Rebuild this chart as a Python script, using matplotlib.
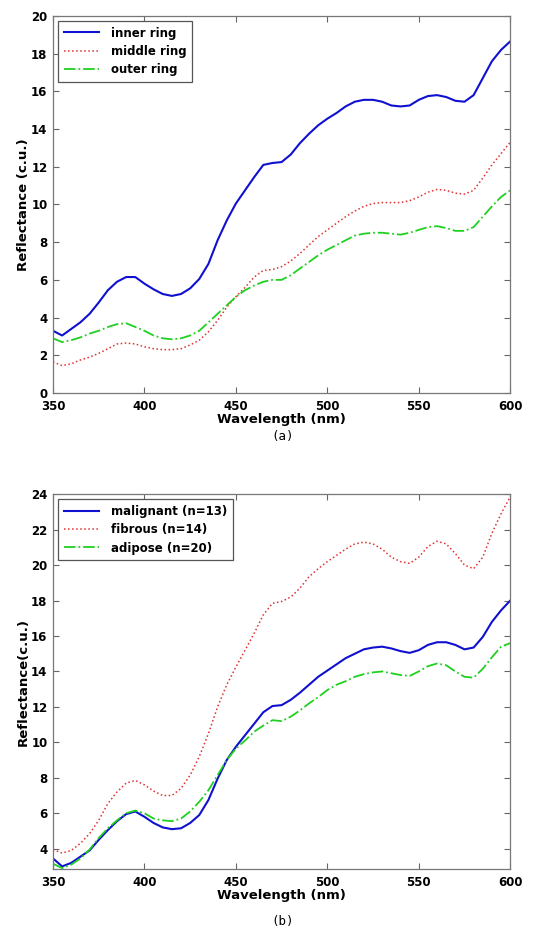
import matplotlib
matplotlib.use("Agg")
import matplotlib.pyplot as plt

# wavelength grid (nm), 5 nm steps
wavelength = list(range(350, 601, 5))

# (a) rings
inner_ring = [3.3, 3.05, 3.4, 3.75, 4.2, 4.8, 5.45, 5.9, 6.15, 6.15, 5.8, 5.5, 5.25, 5.15, 5.25,
              5.55, 6.05, 6.85, 8.1, 9.15, 10.05, 10.75, 11.45, 12.1, 12.2, 12.25, 12.65, 13.25,
              13.75, 14.2, 14.55, 14.85, 15.2, 15.45, 15.55, 15.55, 15.45, 15.25, 15.2, 15.25,
              15.55, 15.75, 15.8, 15.7, 15.5, 15.45, 15.8, 16.7, 17.6, 18.2, 18.65]
middle_ring = [1.65, 1.45, 1.55, 1.75, 1.9, 2.1, 2.35, 2.6, 2.65, 2.6, 2.45, 2.35, 2.3, 2.3, 2.35,
               2.55, 2.8, 3.25, 3.85, 4.55, 5.1, 5.6, 6.15, 6.5, 6.55, 6.7, 7.0, 7.4, 7.85, 8.3,
               8.65, 9.0, 9.35, 9.65, 9.9, 10.05, 10.1, 10.1, 10.1, 10.2, 10.4, 10.65, 10.8,
               10.75, 10.6, 10.55, 10.75, 11.4, 12.1, 12.7, 13.3]
outer_ring = [2.9, 2.7, 2.8, 2.95, 3.15, 3.3, 3.5, 3.65, 3.7, 3.5, 3.3, 3.05, 2.9, 2.85, 2.9,
              3.05, 3.3, 3.75, 4.2, 4.65, 5.1, 5.45, 5.7, 5.9, 6.0, 6.0, 6.25, 6.6, 6.95, 7.3,
              7.6, 7.85, 8.1, 8.35, 8.45, 8.5, 8.5, 8.45, 8.4, 8.5, 8.65, 8.8, 8.85, 8.75, 8.6,
              8.6, 8.8, 9.35, 9.9, 10.4, 10.75]

# (b) tissue types
malignant = [3.45, 3.0, 3.2, 3.55, 3.9, 4.5, 5.05, 5.55, 5.95, 6.1, 5.8, 5.45, 5.2, 5.1, 5.15,
             5.45, 5.9, 6.75, 7.95, 9.0, 9.75, 10.4, 11.05, 11.7, 12.05, 12.1, 12.4, 12.8,
             13.25, 13.7, 14.05, 14.4, 14.75, 15.0, 15.25, 15.35, 15.4, 15.3, 15.15, 15.05,
             15.2, 15.5, 15.65, 15.65, 15.5, 15.25, 15.35, 15.95, 16.8, 17.45, 18.0]
fibrous = [3.95, 3.75, 3.9, 4.3, 4.85, 5.6, 6.55, 7.2, 7.7, 7.85, 7.6, 7.25, 7.0, 7.0, 7.4,
           8.15, 9.2, 10.5, 12.0, 13.25, 14.25, 15.2, 16.15, 17.2, 17.85, 17.95, 18.2, 18.7,
           19.35, 19.8, 20.2, 20.55, 20.9, 21.2, 21.3, 21.2, 20.9, 20.45, 20.2, 20.1, 20.45,
           21.05, 21.35, 21.2, 20.65, 20.0, 19.8, 20.45, 21.8, 22.9, 23.85]
adipose = [3.15, 2.9, 3.1, 3.45, 3.95, 4.6, 5.15, 5.6, 6.0, 6.15, 6.0, 5.7, 5.6, 5.55, 5.7,
           6.1, 6.65, 7.3, 8.15, 9.0, 9.65, 10.1, 10.6, 10.95, 11.25, 11.2, 11.45, 11.8, 12.2,
           12.55, 12.95, 13.25, 13.45, 13.7, 13.85, 13.95, 14.0, 13.9, 13.8, 13.75, 14.0, 14.3,
           14.45, 14.35, 14.0, 13.7, 13.65, 14.15, 14.8, 15.4, 15.6]

labels_a = ["inner ring", "middle ring", "outer ring"]
labels_b = ["malignant (n=13)", "fibrous (n=14)", "adipose (n=20)"]
x_ticks = [350, 400, 450, 500, 550, 600]

blue = "#1010d0"
red = "#e03030"
green = "#20d020"

fig = plt.figure(figsize=(5.43, 9.44), dpi=100)
ax1 = fig.add_axes([0.0976, 0.5837, 0.842, 0.3994])
ax2 = fig.add_axes([0.0976, 0.0794, 0.842, 0.397])


def style(ax, ylim, yticks, ylabel):
    ax.set_xlim(350, 600)
    ax.set_ylim(*ylim)
    ax.set_xticks(x_ticks)
    ax.set_yticks(yticks)
    ax.tick_params(direction="in", top=True, right=True, length=4, width=0.8,
                   color="#666666", labelsize=8.5)
    ax.tick_params(axis="x", pad=5)
    ax.tick_params(axis="y", pad=4)
    for lab in ax.get_xticklabels() + ax.get_yticklabels():
        lab.set_fontweight("bold")
    for sp in ax.spines.values():
        sp.set_color("#777777")
        sp.set_linewidth(0.9)
    ax.set_xlabel("Wavelength (nm)", fontsize=9.5, fontweight="bold", labelpad=0)
    ax.set_ylabel(ylabel, fontsize=9.5, fontweight="bold", labelpad=1)


ax1.plot(wavelength, inner_ring, color=blue, lw=1.5, label=labels_a[0])
ax1.plot(wavelength, middle_ring, color=red, lw=1.1, ls=":", label=labels_a[1])
ax1.plot(wavelength, outer_ring, color=green, lw=1.3, ls="-.", label=labels_a[2])
style(ax1, (0, 20), range(0, 21, 2), "Reflectance (c.u.)")

ax2.plot(wavelength, malignant, color=blue, lw=1.5, label=labels_b[0])
ax2.plot(wavelength, fibrous, color=red, lw=1.1, ls=":", label=labels_b[1])
ax2.plot(wavelength, adipose, color=green, lw=1.3, ls="-.", label=labels_b[2])
style(ax2, (2.85, 24), range(4, 25, 2), "Reflectance(c.u.)")

for ax in (ax1, ax2):
    leg = ax.legend(loc="upper left", prop={"weight": "bold", "size": 8.5},
                    fancybox=False, edgecolor="#555555", framealpha=1,
                    handlelength=3.0, handletextpad=1.0, borderaxespad=0.4,
                    labelspacing=0.45, borderpad=0.5)
    leg.get_frame().set_linewidth(0.9)

fig.text(0.52, 1 - 437 / 944, "(a)", ha="center", va="center",
         fontsize=9, family="DejaVu Sans Mono")
fig.text(0.52, 1 - 922 / 944, "(b)", ha="center", va="center",
         fontsize=9, family="DejaVu Sans Mono")

fig.savefig("out.png", dpi=100)
